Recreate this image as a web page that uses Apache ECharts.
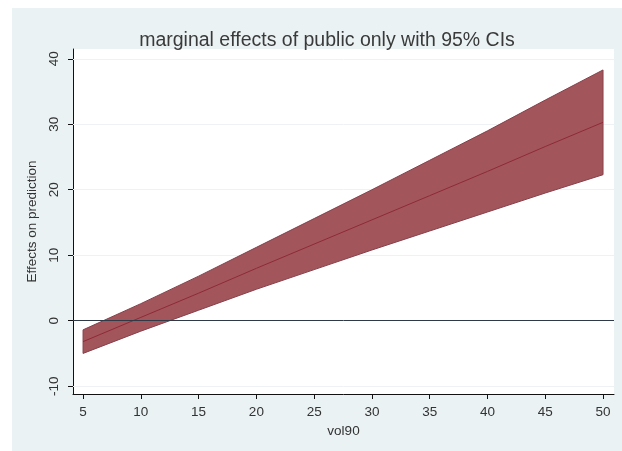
<!DOCTYPE html>
<html>
<head>
<meta charset="utf-8">
<script src="https://cdn.jsdelivr.net/npm/echarts@6/dist/echarts.min.js"></script>
<style>
  body { margin: 0; background: #ffffff; }
  #bg { position: absolute; left: 12px; top: 8px; width: 610px; height: 443px; background: #eaf2f3; }
  #main { position: absolute; left: 0; top: 0; width: 622px; height: 451px; }
</style>
</head>
<body>
<div id="bg"></div>
<div id="main"></div>
<script>
var myChart = echarts.init(document.getElementById('main'));

// values
var vol90 = [5, 10, 15, 20, 25, 30, 35, 40, 45, 50];
var effect = [-3.2, 0.5, 4.2, 8.0, 11.7, 15.4, 19.1, 22.8, 26.6, 30.3];
var ciUpper = [-1.4, 2.6, 6.8, 11.2, 15.6, 20.0, 24.5, 29.0, 33.7, 38.3];
var ciLower = [-5.0, -1.6, 1.6, 4.8, 7.8, 10.8, 13.7, 16.6, 19.5, 22.3];

// tick labels
var xTicks = [5, 10, 15, 20, 25, 30, 35, 40, 45, 50];
var yTicks = [-10, 0, 10, 20, 30, 40];

var font = 'Liberation Sans';

var effectData = [];
var bandData = [];
for (var i = 0; i < vol90.length; i++) {
    effectData.push([vol90[i], effect[i]]);
    bandData.push([vol90[i], ciLower[i], ciUpper[i]]);
}

var gridLines = yTicks.filter(function (v) { return v !== 0; }).map(function (v) {
    return { yAxis: v };
});

// whole confidence band as one polygon: upper edge then lower edge back
function renderBand(params, api) {
    if (params.dataIndex !== 0) return;
    var pts = [];
    for (var i = 0; i < vol90.length; i++) {
        pts.push(api.coord([vol90[i], ciUpper[i]]));
    }
    for (var j = vol90.length - 1; j >= 0; j--) {
        pts.push(api.coord([vol90[j], ciLower[j]]));
    }
    return {
        type: 'polygon',
        shape: { points: pts },
        style: { fill: '#a3555c', stroke: '#86404a', lineWidth: 1 }
    };
}

var option = {
    animation: false,
    textStyle: { fontFamily: font },
    title: {
        text: 'marginal effects of public only with 95% CIs',
        left: 322,
        top: 26,
        textAlign: 'center',
        textStyle: { fontFamily: font, fontSize: 19.5, fontWeight: 'normal', color: '#3a3a3a' }
    },
    grid: {
        left: 73, right: 8, top: 49, bottom: 57,
        show: true, backgroundColor: '#ffffff', borderWidth: 0
    },
    xAxis: {
        type: 'value',
        min: 4.13,
        max: 50.95,
        name: 'vol90',
        nameLocation: 'middle',
        nameGap: 28,
        nameTextStyle: { fontFamily: font, fontSize: 13.5, color: '#333' },
        axisLine: { onZero: false, lineStyle: { color: '#111', width: 1 } },
        axisTick: { show: true, length: 5, customValues: xTicks, lineStyle: { color: '#111' } },
        axisLabel: { customValues: xTicks, margin: 11, fontSize: 13.5, color: '#333', fontFamily: font },
        splitLine: { show: false }
    },
    yAxis: {
        type: 'value',
        min: -11.2,
        max: 41.5,
        name: 'Effects on prediction',
        nameLocation: 'middle',
        nameRotate: 90,
        nameGap: 31,
        nameTextStyle: { fontFamily: font, fontSize: 13.5, color: '#333' },
        axisLine: { show: true, onZero: false, lineStyle: { color: '#111', width: 1 } },
        axisTick: { show: true, length: 5, customValues: yTicks, lineStyle: { color: '#111' } },
        axisLabel: { customValues: yTicks, rotate: 90, margin: 12, fontSize: 13.5, color: '#333', fontFamily: font },
        splitLine: { show: false }
    },
    series: [
        {
            // faint grid lines under the band
            type: 'line',
            data: [],
            silent: true,
            markLine: {
                silent: true,
                z: 1,
                symbol: 'none',
                label: { show: false },
                lineStyle: { color: '#eef2f4', width: 1, type: 'solid' },
                data: gridLines
            }
        },
        {
            name: 'band',
            type: 'custom',
            data: bandData,
            renderItem: renderBand,
            clip: true,
            silent: true,
            z: 3
        },
        {
            name: 'effect',
            type: 'line',
            data: effectData,
            symbol: 'none',
            z: 4,
            lineStyle: { color: '#8e2a37', width: 1 },
            markLine: {
                silent: true,
                z: 6,
                symbol: 'none',
                label: { show: false },
                lineStyle: { color: '#2f3a48', width: 1, type: 'solid' },
                data: [{ yAxis: 0 }]
            }
        }
    ]
};

myChart.setOption(option);
</script>
</body>
</html>
